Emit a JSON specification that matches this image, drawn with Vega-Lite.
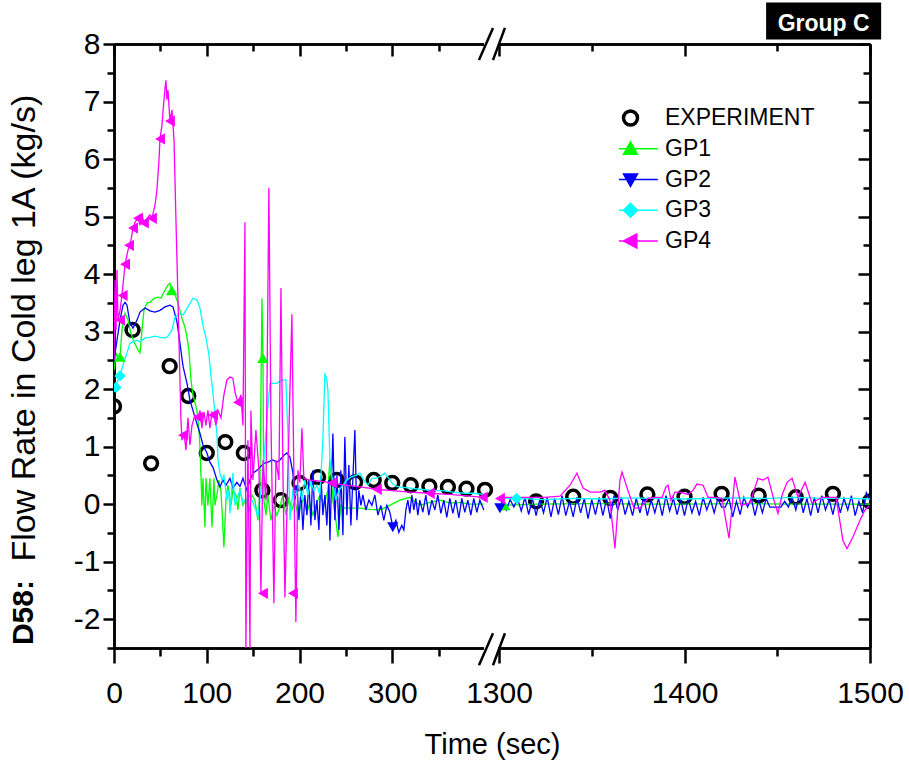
{
  "$schema": "https://vega.github.io/schema/vega-lite/v6.json",
  "width": 756,
  "height": 604,
  "autosize": {"type": "none"},
  "padding": {"left": 114, "top": 44, "right": 39, "bottom": 117},
  "background": "white",
  "config": {
    "view": {"stroke": null},
    "font": "Liberation Sans",
    "axis": {
      "domainColor": "black", "domainWidth": 2.5, "tickColor": "black", "tickWidth": 2.5,
      "labelFont": "Liberation Sans", "labelFontSize": 30, "labelColor": "black",
      "titleFont": "Liberation Sans", "titleFontSize": 29, "titleFontWeight": "normal", "titleColor": "black",
      "grid": false, "labelFlush": false, "labelOverlap": false, "labelBound": false
    }
  },
  "datasets": {
    "exp": [
      {"t":0,"y":1.70},{"t":20,"y":3.03},{"t":40,"y":0.71},{"t":60,"y":2.40},{"t":80,"y":1.88},{"t":100,"y":0.89},{"t":120,"y":1.08},{"t":140,"y":0.89},{"t":160,"y":0.24},{"t":180,"y":0.07},{"t":200,"y":0.37},{"t":220,"y":0.47},{"t":240,"y":0.42},{"t":260,"y":0.38},{"t":280,"y":0.42},{"t":300,"y":0.37},{"t":320,"y":0.33},{"t":340,"y":0.31},{"t":360,"y":0.30},{"t":380,"y":0.27},{"t":400,"y":0.25},
      {"t":1320,"y":0.05},{"t":1340,"y":0.13},{"t":1360,"y":0.11},{"t":1380,"y":0.17},{"t":1400,"y":0.13},{"t":1420,"y":0.18},{"t":1440,"y":0.15},{"t":1460,"y":0.12},{"t":1480,"y":0.18},{"t":1500,"y":0.05}
    ],
    "sim": [
      {"s":"GP1","t":0,"y":2.33},{"s":"GP1","t":2.2,"y":2.63},{"s":"GP1","t":4.3,"y":2.54},{"s":"GP1","t":6.5,"y":2.56},{"s":"GP1","t":8.6,"y":3.03},{"s":"GP1","t":11.9,"y":3.32},{"s":"GP1","t":15.1,"y":3.2},{"s":"GP1","t":18.3,"y":2.97},{"s":"GP1","t":21.6,"y":2.82},{"s":"GP1","t":25.9,"y":2.68},{"s":"GP1","t":28.0,"y":2.63},{"s":"GP1","t":30.2,"y":3.03},{"s":"GP1","t":32.3,"y":3.37},{"s":"GP1","t":35.6,"y":3.5},{"s":"GP1","t":38.8,"y":3.51},{"s":"GP1","t":43.1,"y":3.58},{"s":"GP1","t":47.4,"y":3.6},{"s":"GP1","t":50.6,"y":3.58},{"s":"GP1","t":54.9,"y":3.72},{"s":"GP1","t":58.2,"y":3.81},{"s":"GP1","t":60.3,"y":3.84},{"s":"GP1","t":62.5,"y":3.72},{"s":"GP1","t":64.7,"y":3.69},{"s":"GP1","t":67.9,"y":3.55},{"s":"GP1","t":71.1,"y":3.37},{"s":"GP1","t":73.3,"y":3.23},{"s":"GP1","t":76.5,"y":3.08},{"s":"GP1","t":78.7,"y":2.9},{"s":"GP1","t":80.8,"y":2.68},{"s":"GP1","t":83.0,"y":2.16},{"s":"GP1","t":85.1,"y":1.9},{"s":"GP1","t":87.3,"y":1.77},{"s":"GP1","t":89.4,"y":1.63},{"s":"GP1","t":91.6,"y":1.29},{"s":"GP1","t":92.7,"y":0.99},{"s":"GP1","t":93.8,"y":0.47},{"s":"GP1","t":94.8,"y":-0.02},{"s":"GP1","t":95.9,"y":0.45},{"s":"GP1","t":98.1,"y":-0.4},{"s":"GP1","t":99.1,"y":0.45},{"s":"GP1","t":101.3,"y":-0.02},{"s":"GP1","t":103.4,"y":0.45},{"s":"GP1","t":105.6,"y":-0.4},{"s":"GP1","t":107.8,"y":0.45},{"s":"GP1","t":108.8,"y":-0.02},{"s":"GP1","t":111.0,"y":0.16},{"s":"GP1","t":113.1,"y":0.42},{"s":"GP1","t":115.3,"y":0.24},{"s":"GP1","t":118.5,"y":-0.75},{"s":"GP1","t":120.7,"y":0.07},{"s":"GP1","t":122.8,"y":0.33},{"s":"GP1","t":126.1,"y":-0.02},{"s":"GP1","t":128.2,"y":0.24},{"s":"GP1","t":131.5,"y":0.16},{"s":"GP1","t":133.6,"y":-0.1},{"s":"GP1","t":135.8,"y":0.28},{"s":"GP1","t":139.0,"y":-0.02},{"s":"GP1","t":142.2,"y":0.1},{"s":"GP1","t":145.5,"y":-0.14},{"s":"GP1","t":148.7,"y":0.16},{"s":"GP1","t":151.9,"y":0.07},{"s":"GP1","t":155.2,"y":-0.28},{"s":"GP1","t":157.3,"y":0.24},{"s":"GP1","t":158.4,"y":1.9},{"s":"GP1","t":159.5,"y":3.58},{"s":"GP1","t":160.6,"y":2.54},{"s":"GP1","t":161.6,"y":0.07},{"s":"GP1","t":163.8,"y":-0.19},{"s":"GP1","t":165.9,"y":0.16},{"s":"GP1","t":169.2,"y":-0.28},{"s":"GP1","t":172.4,"y":-0.02},{"s":"GP1","t":175.6,"y":-0.19},{"s":"GP1","t":178.9,"y":-0.05},{"s":"GP1","t":182.1,"y":0.16},{"s":"GP1","t":185.3,"y":-0.19},{"s":"GP1","t":188.6,"y":0.1},{"s":"GP1","t":191.8,"y":-0.1},{"s":"GP1","t":195.0,"y":0.07},{"s":"GP1","t":198.3,"y":-0.19},{"s":"GP1","t":201.5,"y":-0.02},{"s":"GP1","t":204.7,"y":0.1},{"s":"GP1","t":208.0,"y":-0.14},{"s":"GP1","t":211.2,"y":0.02},{"s":"GP1","t":214.4,"y":-0.19},{"s":"GP1","t":217.7,"y":-0.02},{"s":"GP1","t":222.0,"y":0.16},{"s":"GP1","t":226.3,"y":-0.02},{"s":"GP1","t":230.6,"y":0.24},{"s":"GP1","t":232.8,"y":0.77},{"s":"GP1","t":236.0,"y":0.07},{"s":"GP1","t":239.2,"y":-0.28},{"s":"GP1","t":241.4,"y":-0.57},{"s":"GP1","t":244.6,"y":-0.02},{"s":"GP1","t":248.9,"y":-0.07},{"s":"GP1","t":254.3,"y":-0.07},{"s":"GP1","t":265.1,"y":-0.07},{"s":"GP1","t":275.9,"y":-0.09},{"s":"GP1","t":286.6,"y":-0.1},{"s":"GP1","t":297.4,"y":-0.02},{"s":"GP1","t":308.2,"y":0.07},{"s":"GP1","t":319.0,"y":0.12},{"s":"GP1","t":329.7,"y":-0.02},{"s":"GP1","t":340.5,"y":0.03},{"s":"GP1","t":351.3,"y":0.07},{"s":"GP1","t":362.1,"y":0.02},{"s":"GP1","t":372.8,"y":0.03},{"s":"GP1","t":383.6,"y":0.0},{"s":"GP1","t":398.7,"y":0.0},
      {"s":"GP1","t":1300,"y":-0.02},{"s":"GP1","t":1320,"y":0.0},{"s":"GP1","t":1350,"y":0.01},{"s":"GP1","t":1380,"y":0.0},{"s":"GP1","t":1400,"y":0.0},{"s":"GP1","t":1430,"y":0.01},{"s":"GP1","t":1460,"y":0.0},{"s":"GP1","t":1500,"y":0.0},
      {"s":"GP2","t":0,"y":2.5},{"s":"GP2","t":3.2,"y":2.85},{"s":"GP2","t":6.5,"y":3.2},{"s":"GP2","t":9.7,"y":3.46},{"s":"GP2","t":11.9,"y":3.51},{"s":"GP2","t":14.0,"y":3.46},{"s":"GP2","t":17.2,"y":3.15},{"s":"GP2","t":20.5,"y":3.06},{"s":"GP2","t":24.8,"y":3.2},{"s":"GP2","t":28.0,"y":3.34},{"s":"GP2","t":33.4,"y":3.41},{"s":"GP2","t":38.8,"y":3.36},{"s":"GP2","t":44.2,"y":3.34},{"s":"GP2","t":49.6,"y":3.37},{"s":"GP2","t":55.0,"y":3.43},{"s":"GP2","t":60.3,"y":3.46},{"s":"GP2","t":63.6,"y":3.43},{"s":"GP2","t":67.9,"y":3.17},{"s":"GP2","t":71.1,"y":2.8},{"s":"GP2","t":74.4,"y":2.4},{"s":"GP2","t":78.7,"y":2.1},{"s":"GP2","t":81.9,"y":1.81},{"s":"GP2","t":87.3,"y":1.51},{"s":"GP2","t":92.7,"y":1.23},{"s":"GP2","t":95.9,"y":1.03},{"s":"GP2","t":100.2,"y":0.89},{"s":"GP2","t":103.4,"y":0.73},{"s":"GP2","t":106.7,"y":0.64},{"s":"GP2","t":111.0,"y":0.42},{"s":"GP2","t":114.2,"y":0.3},{"s":"GP2","t":117.5,"y":0.42},{"s":"GP2","t":120.7,"y":0.33},{"s":"GP2","t":125.0,"y":0.45},{"s":"GP2","t":128.2,"y":0.28},{"s":"GP2","t":132.5,"y":0.38},{"s":"GP2","t":135.8,"y":0.31},{"s":"GP2","t":139.0,"y":0.45},{"s":"GP2","t":143.3,"y":0.24},{"s":"GP2","t":146.6,"y":0.42},{"s":"GP2","t":149.8,"y":0.54},{"s":"GP2","t":154.1,"y":0.59},{"s":"GP2","t":157.3,"y":0.64},{"s":"GP2","t":161.6,"y":0.71},{"s":"GP2","t":165.9,"y":0.73},{"s":"GP2","t":171.3,"y":0.77},{"s":"GP2","t":175.6,"y":0.73},{"s":"GP2","t":178.9,"y":0.77},{"s":"GP2","t":183.2,"y":0.85},{"s":"GP2","t":186.4,"y":0.89},{"s":"GP2","t":189.7,"y":0.82},{"s":"GP2","t":192.9,"y":0.54},{"s":"GP2","t":195.0,"y":0.07},{"s":"GP2","t":197.2,"y":0.33},{"s":"GP2","t":199.4,"y":-0.28},{"s":"GP2","t":201.5,"y":0.24},{"s":"GP2","t":203.7,"y":-0.45},{"s":"GP2","t":205.8,"y":0.16},{"s":"GP2","t":208.0,"y":-0.19},{"s":"GP2","t":210.1,"y":0.42},{"s":"GP2","t":212.3,"y":-0.37},{"s":"GP2","t":214.4,"y":0.59},{"s":"GP2","t":216.6,"y":-0.28},{"s":"GP2","t":218.8,"y":0.07},{"s":"GP2","t":220.9,"y":-0.45},{"s":"GP2","t":223.1,"y":0.5},{"s":"GP2","t":225.2,"y":-0.19},{"s":"GP2","t":227.4,"y":0.16},{"s":"GP2","t":229.5,"y":-0.37},{"s":"GP2","t":231.7,"y":0.42},{"s":"GP2","t":232.8,"y":-0.63},{"s":"GP2","t":236.0,"y":1.23},{"s":"GP2","t":238.1,"y":-0.28},{"s":"GP2","t":240.3,"y":0.5},{"s":"GP2","t":242.5,"y":-0.45},{"s":"GP2","t":244.6,"y":0.59},{"s":"GP2","t":246.8,"y":-0.54},{"s":"GP2","t":248.9,"y":1.17},{"s":"GP2","t":251.1,"y":-0.19},{"s":"GP2","t":253.2,"y":0.68},{"s":"GP2","t":255.4,"y":-0.37},{"s":"GP2","t":257.5,"y":0.42},{"s":"GP2","t":259.7,"y":1.29},{"s":"GP2","t":261.9,"y":-0.28},{"s":"GP2","t":264.0,"y":0.24},{"s":"GP2","t":266.2,"y":-0.02},{"s":"GP2","t":268.3,"y":0.16},{"s":"GP2","t":271.6,"y":-0.1},{"s":"GP2","t":274.8,"y":0.07},{"s":"GP2","t":278.0,"y":-0.02},{"s":"GP2","t":281.3,"y":0.16},{"s":"GP2","t":284.5,"y":-0.19},{"s":"GP2","t":287.7,"y":-0.02},{"s":"GP2","t":290.9,"y":-0.28},{"s":"GP2","t":294.2,"y":-0.02},{"s":"GP2","t":297.4,"y":-0.14},{"s":"GP2","t":300.6,"y":-0.4},{"s":"GP2","t":303.9,"y":-0.28},{"s":"GP2","t":307.1,"y":-0.49},{"s":"GP2","t":310.3,"y":-0.37},{"s":"GP2","t":312.5,"y":-0.45},{"s":"GP2","t":314.7,"y":-0.1},{"s":"GP2","t":316.8,"y":0.07},{"s":"GP2","t":319.0,"y":-0.16},{"s":"GP2","t":321.1,"y":0.16},{"s":"GP2","t":323.3,"y":-0.1},{"s":"GP2","t":325.4,"y":0.1},{"s":"GP2","t":327.6,"y":-0.19},{"s":"GP2","t":329.7,"y":0.07},{"s":"GP2","t":333.0,"y":-0.14},{"s":"GP2","t":336.2,"y":0.16},{"s":"GP2","t":339.4,"y":-0.19},{"s":"GP2","t":342.7,"y":0.07},{"s":"GP2","t":345.9,"y":-0.1},{"s":"GP2","t":349.1,"y":0.16},{"s":"GP2","t":352.4,"y":-0.16},{"s":"GP2","t":355.6,"y":0.07},{"s":"GP2","t":358.8,"y":-0.23},{"s":"GP2","t":362.1,"y":0.1},{"s":"GP2","t":365.3,"y":-0.16},{"s":"GP2","t":368.5,"y":0.07},{"s":"GP2","t":371.8,"y":-0.24},{"s":"GP2","t":375.0,"y":0.1},{"s":"GP2","t":378.2,"y":-0.14},{"s":"GP2","t":381.5,"y":0.07},{"s":"GP2","t":384.7,"y":-0.19},{"s":"GP2","t":387.9,"y":0.1},{"s":"GP2","t":391.2,"y":-0.14},{"s":"GP2","t":394.4,"y":0.07},{"s":"GP2","t":398.7,"y":-0.1},
      {"s":"GP2","t":1300,"y":-0.05},{"s":"GP2","t":1302,"y":0.05},{"s":"GP2","t":1304,"y":-0.1},{"s":"GP2","t":1306,"y":0.08},{"s":"GP2","t":1308,"y":-0.05},{"s":"GP2","t":1310,"y":0.1},{"s":"GP2","t":1312,"y":-0.12},{"s":"GP2","t":1314,"y":0.12},{"s":"GP2","t":1316,"y":-0.18},{"s":"GP2","t":1318,"y":0.1},{"s":"GP2","t":1320,"y":-0.2},{"s":"GP2","t":1322,"y":0.08},{"s":"GP2","t":1324,"y":-0.15},{"s":"GP2","t":1326,"y":0.12},{"s":"GP2","t":1328,"y":-0.22},{"s":"GP2","t":1330,"y":0.1},{"s":"GP2","t":1332,"y":-0.18},{"s":"GP2","t":1334,"y":0.15},{"s":"GP2","t":1336,"y":-0.2},{"s":"GP2","t":1338,"y":0.05},{"s":"GP2","t":1340,"y":-0.22},{"s":"GP2","t":1342,"y":0.12},{"s":"GP2","t":1344,"y":-0.15},{"s":"GP2","t":1346,"y":0.1},{"s":"GP2","t":1348,"y":-0.25},{"s":"GP2","t":1350,"y":0.08},{"s":"GP2","t":1352,"y":-0.18},{"s":"GP2","t":1354,"y":0.12},{"s":"GP2","t":1356,"y":-0.2},{"s":"GP2","t":1358,"y":0.1},{"s":"GP2","t":1360,"y":-0.25},{"s":"GP2","t":1362,"y":0.15},{"s":"GP2","t":1364,"y":-0.1},{"s":"GP2","t":1366,"y":0.12},{"s":"GP2","t":1368,"y":-0.18},{"s":"GP2","t":1370,"y":0.05},{"s":"GP2","t":1372,"y":-0.2},{"s":"GP2","t":1374,"y":0.1},{"s":"GP2","t":1376,"y":-0.15},{"s":"GP2","t":1378,"y":0.12},{"s":"GP2","t":1380,"y":-0.2},{"s":"GP2","t":1382,"y":0.08},{"s":"GP2","t":1384,"y":-0.15},{"s":"GP2","t":1386,"y":0.1},{"s":"GP2","t":1388,"y":-0.2},{"s":"GP2","t":1390,"y":0.15},{"s":"GP2","t":1392,"y":-0.12},{"s":"GP2","t":1394,"y":0.1},{"s":"GP2","t":1396,"y":-0.18},{"s":"GP2","t":1398,"y":0.08},{"s":"GP2","t":1400,"y":-0.2},{"s":"GP2","t":1402,"y":0.1},{"s":"GP2","t":1404,"y":-0.15},{"s":"GP2","t":1406,"y":0.05},{"s":"GP2","t":1408,"y":-0.2},{"s":"GP2","t":1410,"y":0.12},{"s":"GP2","t":1412,"y":-0.1},{"s":"GP2","t":1414,"y":0.08},{"s":"GP2","t":1416,"y":-0.15},{"s":"GP2","t":1418,"y":0.1},{"s":"GP2","t":1420,"y":-0.05},{"s":"GP2","t":1422,"y":-0.05},{"s":"GP2","t":1424,"y":0.1},{"s":"GP2","t":1426,"y":-0.22},{"s":"GP2","t":1428,"y":0.05},{"s":"GP2","t":1430,"y":-0.18},{"s":"GP2","t":1432,"y":0.12},{"s":"GP2","t":1434,"y":-0.05},{"s":"GP2","t":1436,"y":0.1},{"s":"GP2","t":1438,"y":-0.2},{"s":"GP2","t":1440,"y":0.08},{"s":"GP2","t":1442,"y":-0.15},{"s":"GP2","t":1444,"y":0.1},{"s":"GP2","t":1446,"y":-0.05},{"s":"GP2","t":1448,"y":-0.05},{"s":"GP2","t":1450,"y":-0.05},{"s":"GP2","t":1452,"y":-0.05},{"s":"GP2","t":1454,"y":0.05},{"s":"GP2","t":1456,"y":-0.05},{"s":"GP2","t":1458,"y":0.12},{"s":"GP2","t":1460,"y":-0.1},{"s":"GP2","t":1462,"y":0.18},{"s":"GP2","t":1464,"y":-0.15},{"s":"GP2","t":1466,"y":0.1},{"s":"GP2","t":1468,"y":-0.2},{"s":"GP2","t":1470,"y":0.12},{"s":"GP2","t":1472,"y":-0.15},{"s":"GP2","t":1474,"y":0.15},{"s":"GP2","t":1476,"y":-0.1},{"s":"GP2","t":1478,"y":0.08},{"s":"GP2","t":1480,"y":-0.18},{"s":"GP2","t":1482,"y":0.12},{"s":"GP2","t":1484,"y":-0.15},{"s":"GP2","t":1486,"y":0.1},{"s":"GP2","t":1488,"y":-0.1},{"s":"GP2","t":1490,"y":0.15},{"s":"GP2","t":1492,"y":-0.2},{"s":"GP2","t":1494,"y":0.05},{"s":"GP2","t":1496,"y":-0.15},{"s":"GP2","t":1498,"y":0.2},{"s":"GP2","t":1500,"y":0.05},
      {"s":"GP3","t":0,"y":1.95},{"s":"GP3","t":2.2,"y":2.03},{"s":"GP3","t":4.3,"y":2.16},{"s":"GP3","t":6.5,"y":2.23},{"s":"GP3","t":9.7,"y":2.42},{"s":"GP3","t":14.0,"y":2.63},{"s":"GP3","t":17.2,"y":2.8},{"s":"GP3","t":20.5,"y":2.82},{"s":"GP3","t":24.8,"y":2.85},{"s":"GP3","t":28.0,"y":2.82},{"s":"GP3","t":33.4,"y":2.89},{"s":"GP3","t":38.8,"y":2.9},{"s":"GP3","t":44.2,"y":2.92},{"s":"GP3","t":49.6,"y":2.9},{"s":"GP3","t":55.0,"y":2.89},{"s":"GP3","t":58.2,"y":2.92},{"s":"GP3","t":62.5,"y":3.03},{"s":"GP3","t":65.7,"y":3.25},{"s":"GP3","t":71.1,"y":3.32},{"s":"GP3","t":74.4,"y":3.29},{"s":"GP3","t":79.7,"y":3.43},{"s":"GP3","t":85.1,"y":3.58},{"s":"GP3","t":89.4,"y":3.55},{"s":"GP3","t":92.7,"y":3.41},{"s":"GP3","t":95.9,"y":3.11},{"s":"GP3","t":99.1,"y":2.9},{"s":"GP3","t":102.4,"y":2.59},{"s":"GP3","t":104.5,"y":2.24},{"s":"GP3","t":106.7,"y":1.93},{"s":"GP3","t":108.8,"y":1.58},{"s":"GP3","t":111.0,"y":1.23},{"s":"GP3","t":112.1,"y":0.77},{"s":"GP3","t":114.2,"y":0.54},{"s":"GP3","t":116.4,"y":0.42},{"s":"GP3","t":118.5,"y":0.5},{"s":"GP3","t":121.8,"y":0.07},{"s":"GP3","t":123.9,"y":0.24},{"s":"GP3","t":125.0,"y":-0.16},{"s":"GP3","t":128.2,"y":0.54},{"s":"GP3","t":130.4,"y":-0.02},{"s":"GP3","t":132.5,"y":0.1},{"s":"GP3","t":135.8,"y":0.24},{"s":"GP3","t":139.0,"y":0.03},{"s":"GP3","t":143.3,"y":0.07},{"s":"GP3","t":146.6,"y":0.16},{"s":"GP3","t":149.8,"y":0.02},{"s":"GP3","t":153.0,"y":-0.1},{"s":"GP3","t":155.2,"y":-0.23},{"s":"GP3","t":157.3,"y":0.07},{"s":"GP3","t":160.6,"y":0.59},{"s":"GP3","t":163.8,"y":1.23},{"s":"GP3","t":165.9,"y":1.69},{"s":"GP3","t":168.1,"y":2.1},{"s":"GP3","t":172.4,"y":2.1},{"s":"GP3","t":175.6,"y":2.1},{"s":"GP3","t":178.9,"y":2.14},{"s":"GP3","t":182.1,"y":2.16},{"s":"GP3","t":185.3,"y":2.16},{"s":"GP3","t":187.5,"y":1.23},{"s":"GP3","t":189.7,"y":-0.28},{"s":"GP3","t":192.9,"y":0.24},{"s":"GP3","t":196.1,"y":0.16},{"s":"GP3","t":199.4,"y":0.33},{"s":"GP3","t":202.6,"y":0.07},{"s":"GP3","t":205.8,"y":0.42},{"s":"GP3","t":209.1,"y":0.16},{"s":"GP3","t":212.3,"y":0.38},{"s":"GP3","t":215.5,"y":0.24},{"s":"GP3","t":218.8,"y":0.33},{"s":"GP3","t":222.0,"y":0.16},{"s":"GP3","t":225.2,"y":1.11},{"s":"GP3","t":227.4,"y":2.28},{"s":"GP3","t":229.5,"y":2.16},{"s":"GP3","t":230.6,"y":1.98},{"s":"GP3","t":232.8,"y":0.77},{"s":"GP3","t":236.0,"y":0.33},{"s":"GP3","t":239.2,"y":0.07},{"s":"GP3","t":242.5,"y":0.24},{"s":"GP3","t":246.8,"y":0.33},{"s":"GP3","t":251.1,"y":0.42},{"s":"GP3","t":255.4,"y":0.47},{"s":"GP3","t":260.8,"y":0.5},{"s":"GP3","t":265.1,"y":0.54},{"s":"GP3","t":269.4,"y":0.42},{"s":"GP3","t":273.7,"y":0.33},{"s":"GP3","t":278.0,"y":0.45},{"s":"GP3","t":282.3,"y":0.45},{"s":"GP3","t":287.7,"y":0.49},{"s":"GP3","t":292.0,"y":0.54},{"s":"GP3","t":296.3,"y":0.45},{"s":"GP3","t":300.6,"y":0.35},{"s":"GP3","t":305.0,"y":0.31},{"s":"GP3","t":308.2,"y":0.3},{"s":"GP3","t":319.0,"y":0.28},{"s":"GP3","t":329.7,"y":0.26},{"s":"GP3","t":343.8,"y":0.24},{"s":"GP3","t":356.7,"y":0.23},{"s":"GP3","t":365.3,"y":0.21},{"s":"GP3","t":378.2,"y":0.19},{"s":"GP3","t":386.9,"y":0.19},{"s":"GP3","t":398.7,"y":0.17},
      {"s":"GP3","t":1300,"y":0.1},{"s":"GP3","t":1310,"y":0.1},{"s":"GP3","t":1325,"y":0.08},{"s":"GP3","t":1340,"y":0.1},{"s":"GP3","t":1355,"y":0.09},{"s":"GP3","t":1370,"y":0.11},{"s":"GP3","t":1385,"y":0.1},{"s":"GP3","t":1400,"y":0.09},{"s":"GP3","t":1415,"y":0.1},{"s":"GP3","t":1430,"y":0.11},{"s":"GP3","t":1445,"y":0.1},{"s":"GP3","t":1460,"y":0.12},{"s":"GP3","t":1475,"y":0.1},{"s":"GP3","t":1490,"y":0.1},{"s":"GP3","t":1500,"y":0.09},
      {"s":"GP4","t":0,"y":2.5},{"s":"GP4","t":1.1,"y":3.9},{"s":"GP4","t":2.2,"y":3.03},{"s":"GP4","t":3.2,"y":4.07},{"s":"GP4","t":4.3,"y":3.2},{"s":"GP4","t":6.5,"y":3.37},{"s":"GP4","t":8.6,"y":3.63},{"s":"GP4","t":11.9,"y":4.17},{"s":"GP4","t":14.0,"y":4.33},{"s":"GP4","t":16.2,"y":4.5},{"s":"GP4","t":18.3,"y":4.59},{"s":"GP4","t":20.5,"y":4.8},{"s":"GP4","t":22.6,"y":4.9},{"s":"GP4","t":25.9,"y":4.97},{"s":"GP4","t":28.0,"y":4.85},{"s":"GP4","t":30.2,"y":5.03},{"s":"GP4","t":32.3,"y":4.89},{"s":"GP4","t":35.6,"y":4.97},{"s":"GP4","t":38.8,"y":5.03},{"s":"GP4","t":40.9,"y":4.97},{"s":"GP4","t":44.2,"y":5.2},{"s":"GP4","t":46.3,"y":5.46},{"s":"GP4","t":48.5,"y":5.98},{"s":"GP4","t":49.6,"y":6.35},{"s":"GP4","t":51.7,"y":6.59},{"s":"GP4","t":53.9,"y":7.03},{"s":"GP4","t":55.0,"y":7.23},{"s":"GP4","t":56.0,"y":7.37},{"s":"GP4","t":57.1,"y":7.03},{"s":"GP4","t":58.2,"y":7.2},{"s":"GP4","t":60.3,"y":6.66},{"s":"GP4","t":62.5,"y":6.85},{"s":"GP4","t":64.7,"y":6.33},{"s":"GP4","t":66.8,"y":4.94},{"s":"GP4","t":69.0,"y":3.55},{"s":"GP4","t":71.1,"y":2.16},{"s":"GP4","t":72.2,"y":1.46},{"s":"GP4","t":73.3,"y":1.11},{"s":"GP4","t":75.4,"y":1.25},{"s":"GP4","t":77.6,"y":0.94},{"s":"GP4","t":79.7,"y":1.5},{"s":"GP4","t":81.9,"y":1.03},{"s":"GP4","t":84.1,"y":1.37},{"s":"GP4","t":87.3,"y":1.55},{"s":"GP4","t":90.5,"y":1.51},{"s":"GP4","t":92.7,"y":1.63},{"s":"GP4","t":94.8,"y":1.32},{"s":"GP4","t":97.0,"y":1.6},{"s":"GP4","t":99.1,"y":1.37},{"s":"GP4","t":101.3,"y":1.63},{"s":"GP4","t":103.4,"y":1.32},{"s":"GP4","t":105.6,"y":1.6},{"s":"GP4","t":107.8,"y":1.55},{"s":"GP4","t":109.9,"y":1.37},{"s":"GP4","t":112.1,"y":1.63},{"s":"GP4","t":115.3,"y":1.5},{"s":"GP4","t":118.5,"y":1.9},{"s":"GP4","t":121.8,"y":2.16},{"s":"GP4","t":125.0,"y":2.21},{"s":"GP4","t":128.2,"y":2.19},{"s":"GP4","t":130.4,"y":1.95},{"s":"GP4","t":133.6,"y":1.77},{"s":"GP4","t":136.9,"y":1.9},{"s":"GP4","t":139.0,"y":1.37},{"s":"GP4","t":141.2,"y":4.9},{"s":"GP4","t":142.2,"y":-2.5},{"s":"GP4","t":144.4,"y":1.11},{"s":"GP4","t":146.6,"y":-2.5},{"s":"GP4","t":147.6,"y":1.63},{"s":"GP4","t":149.8,"y":0.42},{"s":"GP4","t":153.0,"y":1.29},{"s":"GP4","t":156.3,"y":0.59},{"s":"GP4","t":158.4,"y":-1.55},{"s":"GP4","t":160.6,"y":0.77},{"s":"GP4","t":163.8,"y":0.07},{"s":"GP4","t":167.0,"y":5.5},{"s":"GP4","t":169.2,"y":1.46},{"s":"GP4","t":172.4,"y":-1.72},{"s":"GP4","t":174.6,"y":0.77},{"s":"GP4","t":177.8,"y":0.42},{"s":"GP4","t":180.0,"y":3.76},{"s":"GP4","t":182.1,"y":0.59},{"s":"GP4","t":184.3,"y":-1.62},{"s":"GP4","t":187.5,"y":0.59},{"s":"GP4","t":191.8,"y":3.3},{"s":"GP4","t":194.0,"y":0.42},{"s":"GP4","t":196.1,"y":-2.05},{"s":"GP4","t":198.3,"y":0.59},{"s":"GP4","t":200.4,"y":0.38},{"s":"GP4","t":202.6,"y":1.32},{"s":"GP4","t":204.7,"y":0.45},{"s":"GP4","t":211.2,"y":0.42},{"s":"GP4","t":222.0,"y":0.4},{"s":"GP4","t":234.9,"y":0.37},{"s":"GP4","t":248.9,"y":0.33},{"s":"GP4","t":265.1,"y":0.3},{"s":"GP4","t":283.4,"y":0.26},{"s":"GP4","t":302.8,"y":0.23},{"s":"GP4","t":319.0,"y":0.21},{"s":"GP4","t":340.5,"y":0.19},{"s":"GP4","t":362.1,"y":0.17},{"s":"GP4","t":383.6,"y":0.14},{"s":"GP4","t":398.7,"y":0.12},
      {"s":"GP4","t":1300,"y":0.12},{"s":"GP4","t":1308.6,"y":0.12},{"s":"GP4","t":1316.7,"y":0.12},{"s":"GP4","t":1324.8,"y":0.12},{"s":"GP4","t":1332.9,"y":0.14},{"s":"GP4","t":1338.3,"y":0.33},{"s":"GP4","t":1342.0,"y":0.54},{"s":"GP4","t":1345.3,"y":0.28},{"s":"GP4","t":1349.1,"y":0.21},{"s":"GP4","t":1354.4,"y":0.21},{"s":"GP4","t":1357.1,"y":0.24},{"s":"GP4","t":1359.8,"y":0.07},{"s":"GP4","t":1362.5,"y":-0.77},{"s":"GP4","t":1365.2,"y":0.42},{"s":"GP4","t":1366.3,"y":0.56},{"s":"GP4","t":1369.5,"y":0.24},{"s":"GP4","t":1372.8,"y":-0.07},{"s":"GP4","t":1376.0,"y":-0.07},{"s":"GP4","t":1380.3,"y":0.1},{"s":"GP4","t":1384.1,"y":0.12},{"s":"GP4","t":1387.9,"y":0.12},{"s":"GP4","t":1390.0,"y":0.3},{"s":"GP4","t":1391.1,"y":0.33},{"s":"GP4","t":1392.7,"y":0.07},{"s":"GP4","t":1394.9,"y":0.21},{"s":"GP4","t":1397.6,"y":0.21},{"s":"GP4","t":1401.9,"y":0.17},{"s":"GP4","t":1404.6,"y":0.24},{"s":"GP4","t":1406.7,"y":0.35},{"s":"GP4","t":1410.0,"y":0.33},{"s":"GP4","t":1412.7,"y":0.12},{"s":"GP4","t":1416.4,"y":0.12},{"s":"GP4","t":1420.2,"y":0.1},{"s":"GP4","t":1424.0,"y":-0.59},{"s":"GP4","t":1427.2,"y":0.47},{"s":"GP4","t":1430.5,"y":-0.02},{"s":"GP4","t":1435.3,"y":0.02},{"s":"GP4","t":1439.6,"y":0.45},{"s":"GP4","t":1442.3,"y":0.42},{"s":"GP4","t":1445.0,"y":0.47},{"s":"GP4","t":1448.2,"y":0.07},{"s":"GP4","t":1450.4,"y":-0.16},{"s":"GP4","t":1452.6,"y":0.16},{"s":"GP4","t":1455.3,"y":0.38},{"s":"GP4","t":1458.0,"y":0.45},{"s":"GP4","t":1461.2,"y":0.12},{"s":"GP4","t":1465.0,"y":0.38},{"s":"GP4","t":1468.7,"y":0.02},{"s":"GP4","t":1474.1,"y":0.12},{"s":"GP4","t":1481.7,"y":0.12},{"s":"GP4","t":1485.4,"y":-0.63},{"s":"GP4","t":1487.6,"y":-0.77},{"s":"GP4","t":1490.8,"y":-0.57},{"s":"GP4","t":1494.6,"y":-0.28},{"s":"GP4","t":1497.3,"y":-0.1},{"s":"GP4","t":1499.5,"y":-0.03}
    ],
    "mk": [
      {"s":"GP1","t":6.5,"y":2.56},{"s":"GP1","t":62.2,"y":3.72},{"s":"GP1","t":160.6,"y":2.54},{"s":"GP1","t":1303,"y":-0.02},
      {"s":"GP2","t":300.6,"y":-0.4},{"s":"GP2","t":1300.5,"y":-0.07},
      {"s":"GP3","t":2.2,"y":2.03},{"s":"GP3","t":6.5,"y":2.23},{"s":"GP3","t":1309.5,"y":0.1},
      {"s":"GP4","t":6.5,"y":3.2},{"s":"GP4","t":9.4,"y":3.63},{"s":"GP4","t":11.9,"y":4.17},{"s":"GP4","t":16.2,"y":4.5},{"s":"GP4","t":20.5,"y":4.8},{"s":"GP4","t":25.9,"y":4.97},{"s":"GP4","t":32.3,"y":4.89},{"s":"GP4","t":40.9,"y":4.97},{"s":"GP4","t":49.6,"y":6.35},{"s":"GP4","t":60.3,"y":6.66},{"s":"GP4","t":74.4,"y":1.2},{"s":"GP4","t":90.5,"y":1.51},{"s":"GP4","t":106.7,"y":1.55},{"s":"GP4","t":133.6,"y":1.77},{"s":"GP4","t":160.6,"y":-1.55},{"s":"GP4","t":192.9,"y":-1.55},{"s":"GP4","t":234.9,"y":0.37},{"s":"GP4","t":283.4,"y":0.26},{"s":"GP4","t":340.5,"y":0.19},{"s":"GP4","t":397.6,"y":0.12},{"s":"GP4","t":1300.5,"y":0.1}
    ]
  },
  "layer": [
    {
      "data": {"name": "exp"},
      "mark": {"type": "point", "shape": "circle", "filled": false, "stroke": "black", "strokeWidth": 3.5, "size": 165, "opacity": 1, "clip": true},
      "encoding": {
        "x": {"field": "t", "type": "quantitative",
          "scale": {"domain": [0, 400, 1300, 1500], "range": [0, 371, 385, 756], "nice": false, "zero": false},
          "axis": {"orient": "bottom", "title": "Time (sec)", "values": [0,100,200,300,1300,1400,1500], "format": "d",
            "tickSize": 15, "labelPadding": 15, "titlePadding": 22}},
        "y": {"field": "y", "type": "quantitative",
          "scale": {"domain": [-2.5, 8], "nice": false, "zero": false},
          "axis": {"orient": "left", "title": "Flow Rate in Cold leg 1A (kg/s)", "values": [-2,-1,0,1,2,3,4,5,6,7,8], "format": "d",
            "labelExpr": "replace(datum.label, '\u2212', '-')",
            "tickSize": 11, "labelPadding": 3, "titleFontSize": 34, "titleAngle": 270, "titleAlign": "left", "titleBaseline": "middle", "titleX": -90, "titleY": 517}}
      }
    },
    {
      "data": {"name": "sim"},
      "mark": {"type": "line", "strokeWidth": 1.3, "clip": true},
      "encoding": {
        "x": {"field": "t", "type": "quantitative",
          "scale": {"domain": [0, 400, 1300, 1500], "range": [0, 371, 385, 756], "nice": false, "zero": false},
          "axis": {"orient": "top", "title": null, "labels": false, "values": [0,100,200,300,1300,1400,1500], "tickSize": -12}},
        "y": {"field": "y", "type": "quantitative",
          "scale": {"domain": [-2.5, 8], "nice": false, "zero": false},
          "axis": {"orient": "right", "title": null, "labels": false, "values": [-2,-1,0,1,2,3,4,5,6,7,8], "tickSize": -12}},
        "color": {"field": "s", "type": "nominal",
          "scale": {"domain": ["EXPERIMENT", "GP1", "GP2", "GP3", "GP4"], "range": ["#000000", "#00ff00", "#0000ff", "#00ffff", "#ff00ff"]},
          "legend": {"orient": "none", "legendX": 505, "legendY": 63, "title": null, "direction": "vertical", "padding": 0,
            "symbolSize": 196, "labelFontSize": 23, "labelFont": "Liberation Sans", "labelColor": "black", "labelOffset": 23, "rowPadding": 7.75, "clipHeight": 22, "labelLimit": 300,
            "encode": {"symbols": {"update": {
              "shape": {"signal": "datum.value === 'EXPERIMENT' ? 'circle' : datum.value === 'GP1' ? 'M-3.9,0H3.9M0,-1L1,0.8L-1,0.8Z' : datum.value === 'GP2' ? 'M-3.9,0H3.9M0,1L1,-0.8L-1,-0.8Z' : datum.value === 'GP3' ? 'M-3.9,0H3.9M0,-1L1,0L0,1L-1,0Z' : 'M-3.9,0H3.9M-1,0L0.9,-1L0.9,1Z'"},
              "fill": {"signal": "datum.value === 'EXPERIMENT' ? 'transparent' : datum.value === 'GP1' ? '#00ff00' : datum.value === 'GP2' ? '#0000ff' : datum.value === 'GP3' ? '#00ffff' : '#ff00ff'"},
              "stroke": {"signal": "datum.value === 'EXPERIMENT' ? '#000000' : datum.value === 'GP1' ? '#00ff00' : datum.value === 'GP2' ? '#0000ff' : datum.value === 'GP3' ? '#00ffff' : '#ff00ff'"},
              "strokeWidth": {"signal": "datum.value === 'EXPERIMENT' ? 3.5 : 1.5"},
              "opacity": {"value": 1}
            }}}}},
        "detail": {"field": "t", "type": "quantitative", "bin": {"extent": [0, 2000], "step": 1000}}
      }
    },
    {
      "data": {"name": "mk"},
      "mark": {"type": "point", "filled": true, "size": 130, "opacity": 1, "clip": true, "strokeWidth": 0},
      "encoding": {
        "x": {"field": "t", "type": "quantitative", "scale": {"domain": [0, 400, 1300, 1500], "range": [0, 371, 385, 756], "nice": false, "zero": false},
          "axis": {"orient": "bottom", "title": null, "labels": false, "values": [50,150,250,350,1350,1450], "tickSize": 8}},
        "y": {"field": "y", "type": "quantitative", "scale": {"domain": [-2.5, 8], "nice": false, "zero": false},
          "axis": {"orient": "left", "title": null, "labels": false, "values": [-2.5,-1.5,-0.5,0.5,1.5,2.5,3.5,4.5,5.5,6.5,7.5], "tickSize": 7}},
        "fill": {"field": "s", "type": "nominal", "scale": {"domain": ["GP1", "GP2", "GP3", "GP4"], "range": ["#00ff00", "#0000ff", "#00ffff", "#ff00ff"]}, "legend": null},
        "shape": {"field": "s", "type": "nominal", "scale": {"domain": ["GP1", "GP2", "GP3", "GP4"], "range": ["triangle-up", "triangle-down", "diamond", "triangle-left"]}, "legend": null}
      }
    },
    {
      "data": {"values": [{}]},
      "mark": {"type": "rect", "color": "white"},
      "encoding": {
        "x": {"datum": 398.9, "type": "quantitative",
          "axis": {"orient": "top", "title": null, "labels": false, "values": [50,150,250,350,1350,1450], "tickSize": -7}},
        "x2": {"datum": 1236},
        "y": {"datum": 8.045, "type": "quantitative",
          "axis": {"orient": "right", "title": null, "labels": false, "values": [-1.5,-0.5,0.5,1.5,2.5,3.5,4.5,5.5,6.5,7.5], "tickSize": -7}},
        "y2": {"datum": 7.955}
      }
    },
    {
      "data": {"values": [{}]},
      "mark": {"type": "rect", "color": "white"},
      "encoding": {
        "x": {"datum": 398.9, "type": "quantitative", "axis": null},
        "x2": {"datum": 1236},
        "y": {"datum": -2.455, "type": "quantitative", "axis": null},
        "y2": {"datum": -2.545}
      }
    },
    {
      "data": {"values": [{}]},
      "mark": {"type": "rule", "color": "black", "strokeWidth": 2.5},
      "encoding": {"x": {"datum": 393.5, "type": "quantitative", "axis": null}, "y": {"datum": 7.72, "type": "quantitative", "axis": null}, "x2": {"datum": 914}, "y2": {"datum": 8.28}}
    },
    {
      "data": {"values": [{}]},
      "mark": {"type": "rule", "color": "black", "strokeWidth": 2.5},
      "encoding": {"x": {"datum": 914, "type": "quantitative", "axis": null}, "y": {"datum": 7.72, "type": "quantitative", "axis": null}, "x2": {"datum": 1303.2}, "y2": {"datum": 8.28}}
    },
    {
      "data": {"values": [{}]},
      "mark": {"type": "rule", "color": "black", "strokeWidth": 2.5},
      "encoding": {"x": {"datum": 393.5, "type": "quantitative", "axis": null}, "y": {"datum": -2.8, "type": "quantitative", "axis": null}, "x2": {"datum": 914}, "y2": {"datum": -2.243}}
    },
    {
      "data": {"values": [{}]},
      "mark": {"type": "rule", "color": "black", "strokeWidth": 2.5},
      "encoding": {"x": {"datum": 914, "type": "quantitative", "axis": null}, "y": {"datum": -2.8, "type": "quantitative", "axis": null}, "x2": {"datum": 1303.2}, "y2": {"datum": -2.243}}
    },
    {
      "data": {"values": [{}]},
      "mark": {"type": "rect", "color": "black"},
      "encoding": {"x": {"datum": 1444, "type": "quantitative", "axis": null}, "x2": {"datum": 1506}, "y": {"datum": 8.72, "type": "quantitative", "axis": null}, "y2": {"datum": 8.08}}
    },
    {
      "data": {"values": [{}]},
      "mark": {"type": "text", "text": "Group C", "color": "white", "font": "Liberation Sans", "fontWeight": "bold", "fontSize": 23, "align": "center", "baseline": "alphabetic"},
      "encoding": {"x": {"datum": 1475, "type": "quantitative", "axis": null}, "y": {"datum": 8.22, "type": "quantitative", "axis": null}}
    },
    {
      "data": {"values": [{}]},
      "mark": {"type": "text", "text": "D58:", "color": "black", "font": "Liberation Sans", "fontWeight": "bold", "fontSize": 30, "angle": 270, "align": "left", "baseline": "middle"},
      "encoding": {"x": {"datum": -97, "type": "quantitative", "axis": null}, "y": {"datum": -2.45, "type": "quantitative", "axis": null}}
    }
  ],
  "resolve": {"axis": {"x": "independent", "y": "independent"}}
}
